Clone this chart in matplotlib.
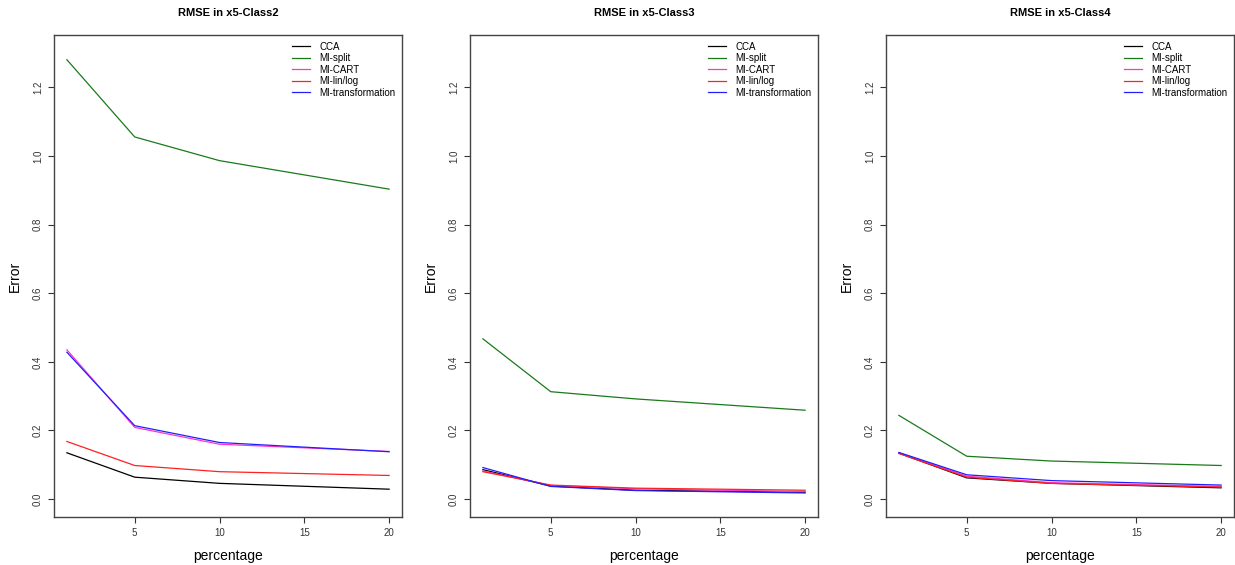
import matplotlib
matplotlib.use("Agg")
import matplotlib.pyplot as plt

plt.rcParams['font.family'] = ['Liberation Sans', 'DejaVu Sans']

# x = percentage of missing values
percentage = [1, 5, 10, 20]
methods = ["CCA", "MI-split", "MI-CART", "MI-lin/log", "MI-transformation"]
colors = ["black", "#1a7a1a", "#ff33cc", "#ff2020", "#2020ff"]
panel_titles = ["RMSE in x5-Class2", "RMSE in x5-Class3", "RMSE in x5-Class4"]

# RMSE per panel, one list per method
class2_cca = [0.135, 0.064, 0.046, 0.029]
class2_split = [1.280, 1.055, 0.986, 0.903]
class2_cart = [0.435, 0.209, 0.160, 0.139]
class2_linlog = [0.168, 0.098, 0.080, 0.069]
class2_trans = [0.428, 0.214, 0.165, 0.138]

class3_cca = [0.086, 0.038, 0.026, 0.020]
class3_split = [0.467, 0.313, 0.292, 0.259]
class3_cart = [0.082, 0.040, 0.030, 0.022]
class3_linlog = [0.080, 0.041, 0.032, 0.026]
class3_trans = [0.092, 0.037, 0.025, 0.018]

class4_cca = [0.134, 0.062, 0.046, 0.033]
class4_split = [0.244, 0.125, 0.111, 0.098]
class4_cart = [0.135, 0.067, 0.048, 0.037]
class4_linlog = [0.133, 0.064, 0.046, 0.035]
class4_trans = [0.136, 0.071, 0.054, 0.041]

panels = [
    [class2_cca, class2_split, class2_cart, class2_linlog, class2_trans],
    [class3_cca, class3_split, class3_cart, class3_linlog, class3_trans],
    [class4_cca, class4_split, class4_cart, class4_linlog, class4_trans],
]

W, H = 1235, 565
fig = plt.figure(figsize=(W / 100, H / 100), dpi=100)

lefts = [54, 470, 886]
ax_w, ax_top, ax_bot = 348, 35, 517

for left, title, series in zip(lefts, panel_titles, panels):
    ax = fig.add_axes([left / W, (H - ax_bot) / H, ax_w / W, (ax_bot - ax_top) / H])
    for name, col, vals in zip(methods, colors, series):
        ax.plot(percentage, vals, color=col, lw=0.9, label=name)
    # R style 4% padding
    ax.set_xlim(1 - 0.04 * 19, 20 + 0.04 * 19)
    ax.set_ylim(-0.04 * 1.3, 1.3 * 1.04)
    ax.set_xticks([5, 10, 15, 20])
    ax.set_yticks([0.0, 0.2, 0.4, 0.6, 0.8, 1.0, 1.2])
    ax.set_yticklabels(["0.0", "0.2", "0.4", "0.6", "0.8", "1.0", "1.2"],
                       rotation=90, va="center")
    ax.tick_params(direction="out", length=4, width=0.8, labelsize=7,
                   colors="#333333", pad=4)
    for sp in ax.spines.values():
        sp.set_color("#444444")
        sp.set_linewidth(1.0)
    ax.set_title(title, fontsize=8, fontweight="bold", pad=14)
    ax.set_xlabel("percentage", fontsize=10, labelpad=8)
    ax.set_ylabel("Error", fontsize=10, labelpad=8)
    ax.legend(loc="upper right", frameon=False, fontsize=7, handlelength=1.9,
              labelspacing=0.15, borderaxespad=0.3, handletextpad=0.9)

fig.savefig("out.png", dpi=100)
